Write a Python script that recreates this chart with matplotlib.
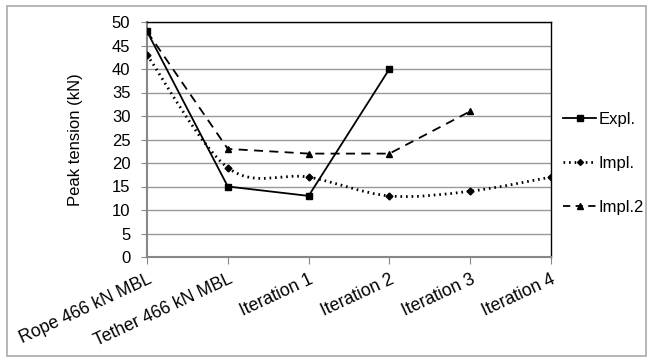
import numpy as np
import matplotlib
matplotlib.use('Agg')
import matplotlib.pyplot as plt
from matplotlib.path import Path
from matplotlib.patches import PathPatch, Rectangle
from matplotlib.lines import Line2D

plt.rcParams['font.family'] = ['Liberation Sans', 'DejaVu Sans']

categories = ['Rope 466 kN MBL', 'Tether 466 kN MBL', 'Iteration 1',
              'Iteration 2', 'Iteration 3', 'Iteration 4']
expl = [48, 15, 13, 40]
impl = [43, 19, 17, 13, 14, 17]
impl2 = [48, 23, 22, 22, 31]

FS = 12


def smooth_path(xs, ys):
    # Catmull-Rom style Bezier segments through every point
    pts = np.column_stack([xs, ys]).astype(float)
    n = len(pts)
    verts = [pts[0]]
    codes = [Path.MOVETO]
    for i in range(n - 1):
        p0 = pts[i - 1] if i > 0 else pts[i]
        p1 = pts[i]
        p2 = pts[i + 1]
        p3 = pts[i + 2] if i + 2 < n else pts[i + 1]
        c1 = p1 + (p2 - p0) / 6.0
        c2 = p2 - (p3 - p1) / 6.0
        verts += [c1, c2, p2]
        codes += [Path.CURVE4] * 3
    return Path(verts, codes)


fig = plt.figure(figsize=(6.53, 3.59), dpi=100)
ax = fig.add_axes([147 / 653, 1 - 257 / 359, (551 - 147) / 653, (257 - 22) / 359])

x = np.arange(len(categories))

ax.plot(x[:len(expl)], expl, color='black', lw=1.3, marker='s', ms=5,
        label='Expl.', zorder=3)

ax.add_patch(PathPatch(smooth_path(x, impl), fill=False, lw=2,
                       ls=(0, (0.6, 1.4)), edgecolor='black', zorder=3))
ax.plot(x, impl, ls='none', marker='D', ms=3.5, color='black', zorder=4)

ax.plot(x[:len(impl2)], impl2, color='black', lw=1.3, ls=(0, (5, 3.5)),
        marker='^', ms=5, label='Impl.2', zorder=3)

ax.set_xlim(0, len(categories) - 1)
ax.set_ylim(0, 50)
ax.set_yticks(range(0, 51, 5))
ax.set_xticks(x)
ax.set_xticklabels(categories, rotation=25, ha='right', va='top',
                   rotation_mode='anchor', fontsize=12.7)
ax.tick_params(axis='y', labelsize=FS, length=4, color='#888888', pad=8)
ax.tick_params(axis='x', length=5, color='#888888', pad=5)
ax.grid(axis='y', color='#999999', lw=1)
ax.set_axisbelow(True)
for side in ['left', 'bottom']:
    ax.spines[side].set_color('#888888')
    ax.spines[side].set_linewidth(1.5)
for side in ['top', 'right']:
    ax.spines[side].set_color('black')
    ax.spines[side].set_linewidth(1)
ax.set_ylabel('Peak tension (kN)', fontsize=FS, labelpad=21)

handles = [
    Line2D([], [], color='black', lw=1.3, marker='s', ms=4),
    Line2D([], [], color='black', lw=2, ls=(0, (0.6, 1.4)), marker='D', ms=3),
    Line2D([], [], color='black', lw=1.3, ls=(0, (4, 3)), marker='^', ms=4),
]
fig.legend(handles, ['Expl.', 'Impl.', 'Impl.2'], loc='upper left',
           bbox_to_anchor=(563 / 653, 1 - 112 / 359), frameon=False,
           fontsize=FS, labelspacing=1.75, handlelength=2.0,
           handletextpad=0.15, borderpad=0, borderaxespad=0)

fig.patches.append(Rectangle((7 / 653, 1 - 356 / 359), 639 / 653, 350 / 359,
                             transform=fig.transFigure, fill=False,
                             edgecolor='#aaaaaa', lw=1.2))

fig.savefig('out.png', dpi=100)
